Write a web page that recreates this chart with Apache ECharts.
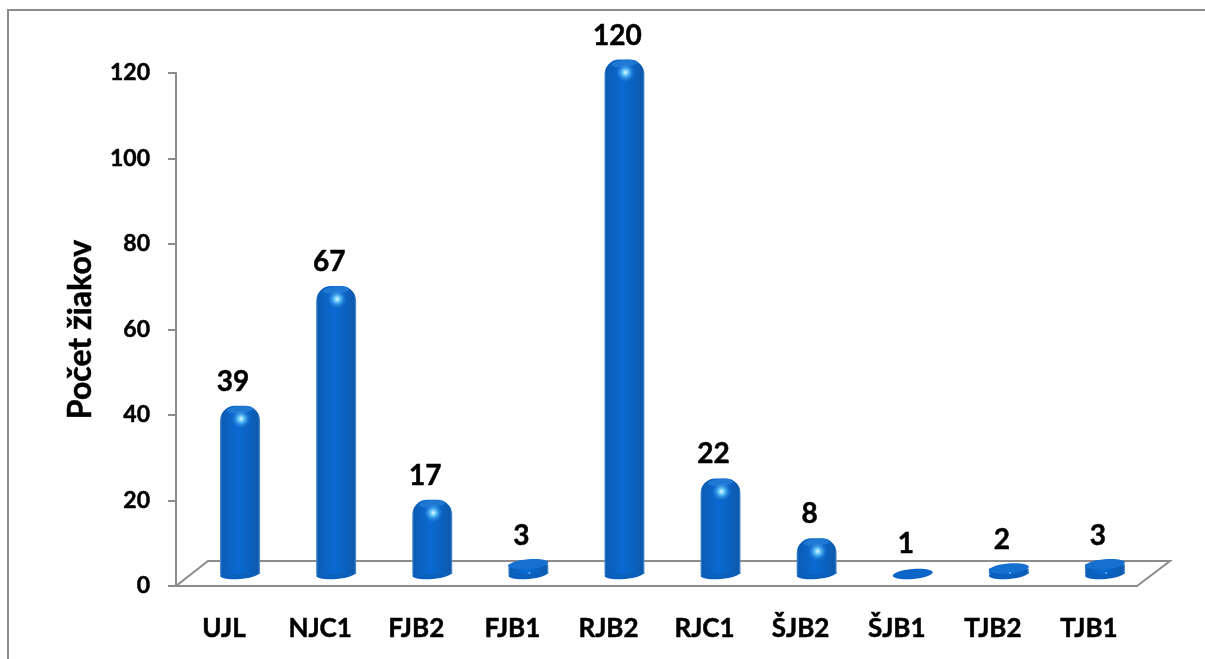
<!DOCTYPE html>
<html>
<head>
<meta charset="utf-8">
<style>
html, body { margin: 0; padding: 0; background: #fff; }
#main { width: 1205px; height: 659px; }
</style>
<script src="https://cdn.jsdelivr.net/npm/echarts@6/dist/echarts.min.js"></script>
</head>
<body>
<div id="main"></div>
<script>
var categories = ['UJL', 'NJC1', 'FJB2', 'FJB1', 'RJB2', 'RJC1', 'ŠJB2', 'ŠJB1', 'TJB2', 'TJB1'];
var values = [39, 67, 17, 3, 120, 22, 8, 1, 2, 3];
var yTicks = { min: 0, max: 120, interval: 20 };

var myChart = echarts.init(document.getElementById('main'));
var font = 'Lato';
var grey = '#8c8c8c';

// the bars stand on a fake 3D floor, so they are shifted from the axis position
var barDx = 16, barHalf = 20, topShift = 14.5, baseShift = 8, labelDx = 9;
var tilt = 0.09;

function renderBar(params, api) {
    var p = api.coord([api.value(0), api.value(1)]);
    var zero = api.coord([api.value(0), 0]);
    var cx = p[0] + barDx;
    var top = p[1] - topShift;
    var base = zero[1] - baseShift;
    var h = base - top;
    var body = new echarts.graphic.LinearGradient(0, 0, 1, 0, [
        { offset: 0, color: '#4a8fd6' },
        { offset: 0.05, color: '#0c5cb4' },
        { offset: 0.45, color: '#0a6ad2' },
        { offset: 0.95, color: '#0d5aae' },
        { offset: 1, color: '#5a97d2' }
    ]);
    var children = [];
    var capY = base - 4;
    // bottom ellipse of the cylinder
    children.push({
        type: 'ellipse',
        shape: { cx: cx, cy: capY, rx: barHalf, ry: 5 },
        rotation: tilt, originX: cx, originY: capY,
        style: { fill: h < 14 ? '#0c66c8' : '#0b60be' }
    });
    if (h >= 24) {
        var r = 15;
        children.push({
            type: 'rect',
            shape: { x: cx - barHalf, y: top + 1, width: barHalf * 2, height: capY - top - 1, r: [r, r, 0, 0] },
            style: { fill: body }
        });
        // lighter cap on top
        children.push({
            type: 'ellipse',
            shape: { cx: cx, cy: top + 5, rx: barHalf - 7, ry: 3.5 },
            rotation: tilt, originX: cx, originY: top + 5,
            style: { fill: '#1f78d2' }
        });
        children.push({
            type: 'circle',
            shape: { cx: cx + 1, cy: top + 14, r: 10 },
            style: {
                fill: new echarts.graphic.RadialGradient(0.5, 0.5, 0.5, [
                    { offset: 0, color: '#dff9ff' },
                    { offset: 0.3, color: '#62c6fa' },
                    { offset: 1, color: 'rgba(20,110,215,0)' }
                ])
            }
        });
    } else if (h >= 14) {
        // squat bars are only a short piece of cylinder, no dome
        var discY = top + 5.5;
        children.push({
            type: 'rect',
            shape: { x: cx - barHalf, y: discY, width: barHalf * 2, height: capY - discY },
            style: { fill: body }
        });
        children.push({
            type: 'ellipse',
            shape: { cx: cx, cy: discY, rx: barHalf, ry: 5 },
            rotation: tilt, originX: cx, originY: discY,
            style: { fill: '#1570cf' }
        });
        children.push({
            type: 'ellipse',
            shape: { cx: cx + 1, cy: capY - 1, rx: 11, ry: 2 },
            style: {
                fill: new echarts.graphic.RadialGradient(0.5, 0.5, 0.5, [
                    { offset: 0, color: '#8fdcfc' },
                    { offset: 1, color: 'rgba(20,110,215,0)' }
                ])
            }
        });
    }
    children.push({
        type: 'text',
        style: {
            x: p[0] + labelDx,
            y: top - 23,
            text: String(api.value(1)),
            align: 'center',
            verticalAlign: 'middle',
            font: 'bold 28px ' + font,
            fill: '#000',
            stroke: '#000',
            lineWidth: 0.5
        }
    });
    return { type: 'group', children: children };
}

var boldText = { color: '#000', fontFamily: font, fontWeight: 'bold', textBorderColor: '#000', textBorderWidth: 0.5 };

var option = {
    backgroundColor: '#fff',
    animation: false,
    grid: { left: 176, right: 68, top: 73, bottom: 73 },
    xAxis: {
        type: 'category',
        data: categories,
        axisLine: { lineStyle: { color: grey, width: 2 } },
        axisTick: { show: false },
        axisLabel: Object.assign({}, boldText, { fontSize: 26, margin: 30 })
    },
    yAxis: {
        type: 'value',
        min: yTicks.min,
        max: yTicks.max,
        interval: yTicks.interval,
        name: 'Počet žiakov',
        nameLocation: 'middle',
        nameGap: 79,
        nameTextStyle: Object.assign({}, boldText, { fontSize: 32 }),
        axisLine: { show: true, lineStyle: { color: grey, width: 2 } },
        axisTick: { show: true, inside: false, length: 8, lineStyle: { color: grey, width: 2 } },
        axisLabel: Object.assign({}, boldText, { fontSize: 23, margin: 26, padding: [2, 0, 0, 0] }),
        splitLine: { show: false }
    },
    // floor of the 3D chart and the frame
    graphic: [
        {
            type: 'rect',
            shape: { x: 8, y: 10, width: 1300, height: 800 },
            style: { fill: 'none', stroke: grey, lineWidth: 2 },
            silent: true
        },
        {
            type: 'polyline',
            shape: { points: [[176, 586], [208, 561], [1170, 561], [1137, 586]] },
            style: { fill: 'none', stroke: grey, lineWidth: 2 },
            silent: true
        }
    ],
    series: [{
        type: 'custom',
        renderItem: renderBar,
        encode: { x: 0, y: 1 },
        clip: false,
        z: 5,
        data: categories.map(function (c, i) { return [i, values[i]]; })
    }]
};
myChart.setOption(option);
</script>
</body>
</html>
